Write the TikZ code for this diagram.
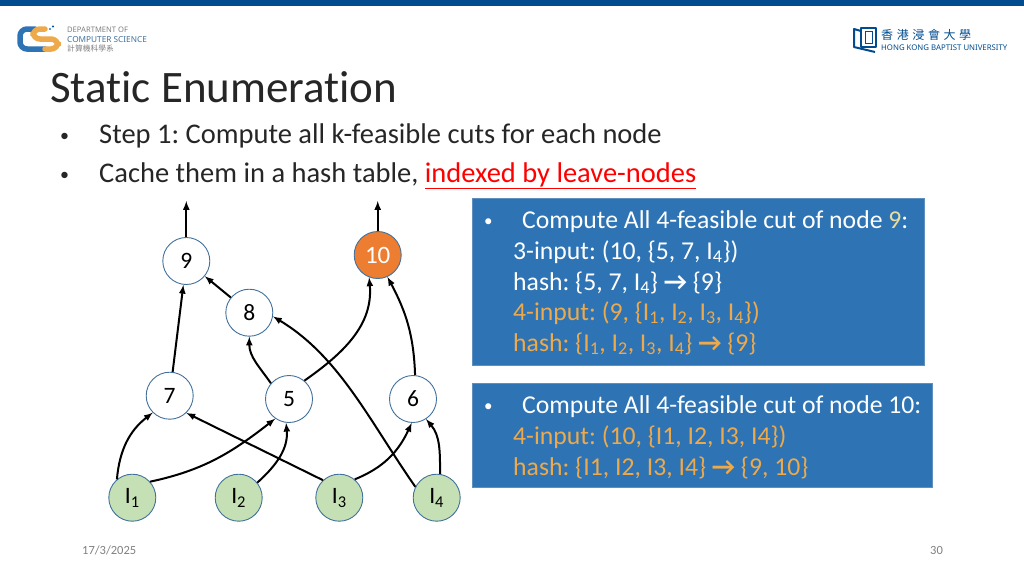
\documentclass[tikz,border=0pt]{standalone}
\usepackage{fontspec}
\setmainfont[Ligatures={TeX,NoCommon}]{Carlito}
\newfontfamily\cjkfont{Noto Sans CJK TC}
\newfontfamily\logofont{Noto Sans}
\usetikzlibrary{arrows,positioning}
\definecolor{barblue}{HTML}{004C8F}
\definecolor{boxblue}{HTML}{2E74B5}
\definecolor{boxedge}{HTML}{5F8FBF}
\definecolor{ringblue}{HTML}{41719C}
\definecolor{leafgreen}{HTML}{C5E0B4}
\definecolor{hotorange}{HTML}{ED7D31}
\definecolor{cutorange}{HTML}{EDA94A}
\definecolor{paleyellow}{HTML}{E6DDA0}
\definecolor{bodygrey}{HTML}{262626}
\newcommand{\fsz}[1]{\fontsize{#1}{#1}\selectfont}
\newcommand{\idx}[1]{\textsubscript{#1}}
\frenchspacing

\begin{document}
\begin{tikzpicture}[
  x=1pt, y=-1pt,
  > = latex,
  gate/.style = {draw=ringblue,fill=white,circle,line width=0.9pt,minimum size=47pt,inner sep=0pt,font=\fsz{23.5}},
  leaf/.style = {gate,fill=leafgreen},
  hot/.style = {gate,fill=hotorange,text=white,font=\fsz{25}},
  wire/.style = {->,line width=2pt,black},
  slab/.style = {draw=boxedge,fill=boxblue,line width=0.8pt},
  line/.style = {anchor=base west,inner sep=0pt,text=white,font=\fsz{25.7}},
  cutline/.style = {line,text=cutorange},
  speck/.style = {line,font=\fsz{17}},
  body/.style = {anchor=base west,inner sep=0pt,text=bodygrey,font=\fsz{28.5}},
  dotmark/.style = {body,font=\fsz{18}},
  ]
	\useasboundingbox (0,0) rectangle (1024,576);
	\fill[barblue] (0,0) rectangle (1024,6);

	\draw[line width=5.5pt,color=boxblue,line cap=round,rounded corners=7pt] (35,29) -- (20,29) -- (20,49) -- (45,49);
	\draw[line width=5.5pt,color=cutorange,line cap=round,rounded corners=7pt] (45,29) -- (33,29) -- (33,39) -- (58,39) -- (58,49) -- (45,49);
	\fill[boxblue] (50,29) circle (1.2pt);
	\fill[barblue] (53,26.5) circle (1.2pt);
	\node[anchor=base west,inner sep=0pt,text=gray,font=\logofont\fsz{7.6}] (deptA) at (67,32) {DEPARTMENT OF};
	\node[anchor=base west,inner sep=0pt,text=ringblue,font=\logofont\fsz{8.25}] (deptB) at (67,42) {COMPUTER SCIENCE};
	\node[anchor=base west,inner sep=0pt,text=gray,font=\cjkfont\fsz{7.8}] (deptC) at (67,51.5) {計算機科學系};

	\draw[barblue,line width=2pt,line join=round] (861,31) -- (854,29) -- (854,47) -- (875,52);
	\draw[barblue,line width=2pt,line join=round] (861,47) -- (861,27.5) -- (876,27.5) -- (876,47) -- cycle;
	\draw[barblue,line width=1pt] (865,31) rectangle (872,43);
	\node[anchor=base west,inner sep=0pt,text=barblue,font=\cjkfont\fsz{12}] (uniA) at (881,39) {香\hspace{3.6pt}港\hspace{3.6pt}浸\hspace{3.6pt}會\hspace{3.6pt}大\hspace{3.6pt}學};
	\node[anchor=base west,inner sep=0pt,text=barblue,font=\logofont\fsz{7.8}] (uniB) at (881,50.5) {HONG KONG BAPTIST UNIVERSITY};

	\node[anchor=base west,inner sep=0pt,text=bodygrey,font=\fsz{45}] (title) at (50,102) {Static Enumeration};
	\node[dotmark] (dotA) at (60,141) {•};
	\node[body] (stepA) at (99,143) {Step 1: Compute all k-feasible cuts for each node};
	\node[dotmark] (dotB) at (60,180) {•};
	\node[body] (stepB) at (99,182) {Cache them in a hash table, \textcolor{red}{\underline{indexed by leave-nodes}}};

	\coordinate (out9) at (186.3,201);
	\coordinate (out10) at (377.7,201);

	\node[gate] (n9) at (186.3,261) {9};
	\node[hot] (n10) at (377.7,255) {10};
	\node[gate] (n8) at (249.3,312.7) {8};
	\node[gate] (n7) at (169.7,395.7) {7};
	\node[gate] (n5) at (289,399) {5};
	\node[gate] (n6) at (413,399) {6};
	\node[leaf] (i1) at (132.3,497.7) {I\idx{1}};
	\node[leaf] (i2) at (238.7,497.7) {I\idx{2}};
	\node[leaf] (i3) at (339.3,497.7) {I\idx{3}};
	\node[leaf] (i4) at (436.7,497.7) {I\idx{4}};

	\draw[wire] (n9) -- (out9);
	\draw[wire] (n10) -- (out10);
	\draw[wire] (n7) -- (n9);
	\draw[wire] (n8) -- (n9);
	\draw[wire] (n5.139) to[out=125,in=-90] (n8);
	\draw[wire] (n5.50) to[out=35,in=-85] (n10.-111);
	\draw[wire] (n6.85) to[out=92,in=-62] (n10.-66);
	\draw[wire] (i1.130) to[out=85,in=-142] (n7.-135);
	\draw[wire] (i1.42) to[out=12,in=-142] (n5.-125);
	\draw[wire] (i2.39) to[out=42,in=-85] (n5.-97);
	\draw[wire] (i3.133) -- (n7.-46);
	\draw[wire] (i3.50) to[out=22,in=-115] (n6.-93);
	\draw[wire] (i4.82) to[out=90,in=-50] (n6.-57);
	\draw[wire] (i4.153) to[out=125,in=-31,looseness=0.9] (n8.-9);

	\path[slab] (472.3,198.7) rectangle (924.3,365);
	\node[speck] (dotC) at (484,226) {•};
	\node[line] (headA) at (522,228) {Compute All 4-feasible cut of node \textcolor{paleyellow}{9}:};
	\node[line] (inA) at (513,259) {3-input: (10, \{5, 7, I\idx{4}\})};
	\node[line] (hashA) at (513,290) {hash: \{5, 7, I\idx{4}\} \textbf{→} \{9\}};
	\node[cutline] (inB) at (513,320) {4-input: (9, \{I\idx{1}, I\idx{2}, I\idx{3}, I\idx{4}\})};
	\node[cutline] (hashB) at (513,351) {hash: \{I\idx{1}, I\idx{2}, I\idx{3}, I\idx{4}\} \textbf{→} \{9\}};

	\path[slab] (472.3,383.3) rectangle (932.7,487.7);
	\node[speck] (dotD) at (484,411) {•};
	\node[line] (headB) at (522,413) {Compute All 4-feasible cut of node 10:};
	\node[cutline] (inC) at (513,444) {4-input: (10, \{I1, I2, I3, I4\})};
	\node[cutline] (hashC) at (513,475) {hash: \{I1, I2, I3, I4\} \textbf{→} \{9, 10\}};

	\node[anchor=base west,inner sep=0pt,text=gray,font=\fsz{12.5}] (date) at (82,554) {17/3/2025};
	\node[anchor=base west,inner sep=0pt,text=gray,font=\fsz{12.5}] (page) at (930,554) {30};

\end{tikzpicture}
\end{document}
